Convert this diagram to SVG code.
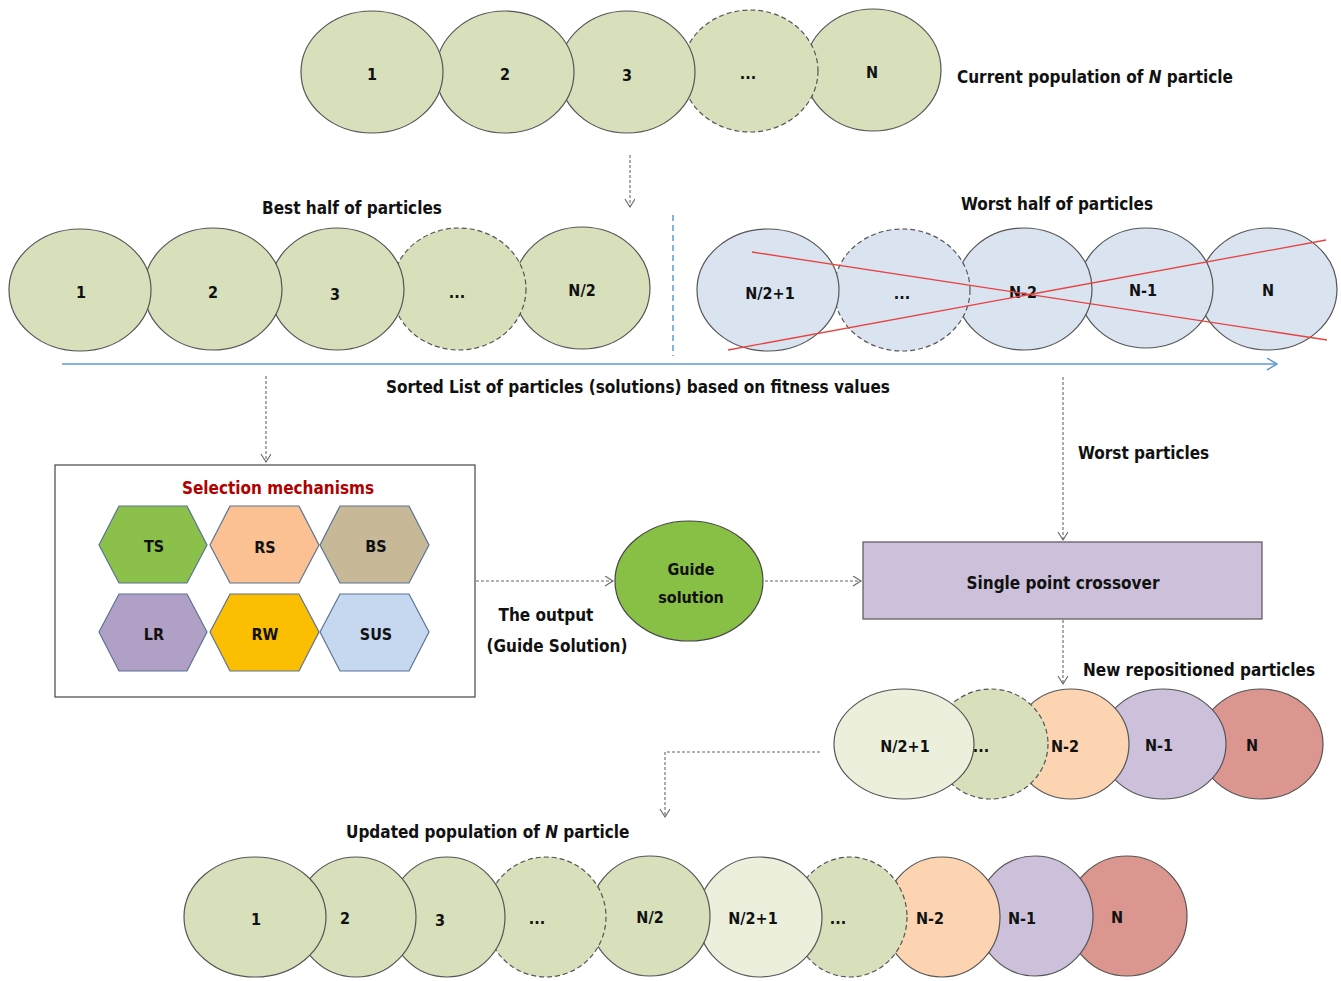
<svg xmlns="http://www.w3.org/2000/svg" width="1341" height="981" viewBox="0 0 1341 981">
<style>
text{font-family:"DejaVu Sans","Liberation Sans",sans-serif;font-stretch:condensed;font-weight:bold;fill:#111;}
.c{text-anchor:middle;}
.lbl{font-size:17px;}
.in{font-size:16px;}
.el{stroke:#555;stroke-width:1.2;}
.dash{stroke-dasharray:5,3;}
.g1{fill:#d7e0bb;}
.wb{fill:#dae3f0;}
.lt{fill:#ebefdc;}
.or{fill:#fdd4b2;}
.pu{fill:#ccc0da;}
.rd{fill:#da968f;}
.hex{stroke:#5a7396;stroke-width:1.2;}
.conn{fill:none;stroke:#666;stroke-width:1.1;stroke-dasharray:3,2;}
</style>
<defs>
<marker id="ah" markerWidth="12" markerHeight="12" refX="9" refY="5" orient="auto" markerUnits="userSpaceOnUse">
<path d="M1,0 L9,5 L1,10" fill="none" stroke="#666" stroke-width="1.1"/>
</marker>
<marker id="bh" markerWidth="14" markerHeight="14" refX="11" refY="6" orient="auto" markerUnits="userSpaceOnUse">
<path d="M1,0 L11,6 L1,12" fill="none" stroke="#5b9bd5" stroke-width="1.5"/>
</marker>
</defs>
<rect width="1341" height="981" fill="#fff"/>

<g id="current-population">
<ellipse class="el g1" cx="873" cy="70" rx="68" ry="61"/>
<ellipse class="el g1 dash" cx="750" cy="71" rx="68" ry="61"/>
<ellipse class="el g1" cx="627" cy="72" rx="68" ry="61"/>
<ellipse class="el g1" cx="505" cy="72" rx="69" ry="61"/>
<ellipse class="el g1" cx="372" cy="72" rx="71" ry="61"/>
<text class="c in" x="372" y="80">1</text>
<text class="c in" x="505" y="80">2</text>
<text class="c in" x="627" y="81">3</text>
<text class="c in" x="748" y="79">...</text>
<text class="c in" x="872" y="78">N</text>
<text class="lbl" x="957" y="83">Current population of <tspan font-style="italic">N</tspan> particle</text>
</g>

<g id="best-half">
<text class="c lbl" x="352" y="214">Best half of particles</text>
<ellipse class="el g1" cx="582" cy="288" rx="68" ry="61"/>
<ellipse class="el g1 dash" cx="459" cy="289" rx="67" ry="61"/>
<ellipse class="el g1" cx="337" cy="289" rx="67" ry="61"/>
<ellipse class="el g1" cx="213" cy="289" rx="69" ry="61"/>
<ellipse class="el g1" cx="80" cy="290" rx="71" ry="61"/>
<text class="c in" x="81" y="298">1</text>
<text class="c in" x="213" y="298">2</text>
<text class="c in" x="335" y="300">3</text>
<text class="c in" x="457" y="298">...</text>
<text class="c in" x="582" y="296">N/2</text>
</g>

<line x1="673" y1="215" x2="673" y2="356" stroke="#5b9bd5" stroke-width="1.5" stroke-dasharray="6,4"/>

<g id="worst-half">
<text class="c lbl" x="1057" y="210">Worst half of particles</text>
<ellipse class="el wb" cx="1268" cy="289" rx="69" ry="61"/>
<ellipse class="el wb" cx="1146" cy="288" rx="67" ry="60"/>
<ellipse class="el wb" cx="1024" cy="289" rx="68" ry="61"/>
<ellipse class="el wb dash" cx="902" cy="290" rx="68" ry="61"/>
<ellipse class="el wb" cx="768" cy="290" rx="71" ry="61"/>
<text class="c in" x="770" y="299">N/2+1</text>
<text class="c in" x="902" y="299">...</text>
<text class="c in" x="1023" y="298">N-2</text>
<text class="c in" x="1143" y="296">N-1</text>
<text class="c in" x="1268" y="296">N</text>
<line x1="752" y1="252" x2="1327" y2="340" stroke="#e8423f" stroke-width="1.3"/>
<line x1="728" y1="350" x2="1326" y2="240" stroke="#e8423f" stroke-width="1.3"/>
</g>

<g id="sorted-axis">
<line x1="62" y1="364" x2="1277" y2="364" stroke="#5b9bd5" stroke-width="1.5" marker-end="url(#bh)"/>
<text class="c lbl" x="638" y="393">Sorted List of particles (solutions) based on fitness values</text>
</g>

<g id="selection-mechanisms">
<rect x="55" y="465" width="420" height="232" fill="#fff" stroke="#444" stroke-width="1.2"/>
<text class="c lbl" x="278" y="494" style="fill:#b00000">Selection mechanisms</text>
<g id="hex-ts"><polygon class="hex" fill="#8bc14a" points="99,545 119,506 187,506 207,545 187,583 119,583"/><text class="c in" x="154" y="552">TS</text></g>
<g id="hex-rs"><polygon class="hex" fill="#fbc192" points="210,545 230,506 299,506 319,545 299,583 230,583"/><text class="c in" x="265" y="553">RS</text></g>
<g id="hex-bs"><polygon class="hex" fill="#c7b998" points="320,545 340,506 409,506 429,545 409,583 340,583"/><text class="c in" x="376" y="552">BS</text></g>
<g id="hex-lr"><polygon class="hex" fill="#b1a0c5" points="99,632 119,594 187,594 207,632 187,671 119,671"/><text class="c in" x="154" y="640">LR</text></g>
<g id="hex-rw"><polygon class="hex" fill="#fcbe00" points="210,632 230,594 299,594 319,632 299,671 230,671"/><text class="c in" x="265" y="640">RW</text></g>
<g id="hex-sus"><polygon class="hex" fill="#c5d8f0" points="320,632 340,594 409,594 429,632 409,671 340,671"/><text class="c in" x="376" y="640">SUS</text></g>
</g>

<g id="guide-solution">
<ellipse cx="689" cy="581" rx="74" ry="60" fill="#88bf45" stroke="#444" stroke-width="1.2"/>
<text class="c in" x="691" y="575">Guide</text>
<text class="c in" x="691" y="603">solution</text>
</g>

<g id="output-label">
<text class="c lbl" x="546" y="621">The output</text>
<text class="c lbl" x="557" y="652">(Guide Solution)</text>
</g>

<g id="crossover">
<rect x="863" y="542" width="399" height="77" fill="#ccc0da" stroke="#555" stroke-width="1.2"/>
<text class="c lbl" x="1063" y="589">Single point crossover</text>
</g>

<g id="worst-particles-label">
<text class="lbl" x="1078" y="459">Worst particles</text>
</g>

<g id="new-repositioned">
<text class="lbl" x="1083" y="676">New repositioned particles</text>
<ellipse class="el rd" cx="1261" cy="744" rx="62" ry="55"/>
<ellipse class="el pu" cx="1163" cy="744" rx="63" ry="55"/>
<ellipse class="el or" cx="1071" cy="744" rx="58" ry="55"/>
<ellipse class="el g1 dash" cx="991" cy="744" rx="57" ry="55"/>
<ellipse class="el lt" cx="904" cy="744" rx="70" ry="55"/>
<text class="c in" x="905" y="752">N/2+1</text>
<text class="c in" x="981" y="752">...</text>
<text class="c in" x="1065" y="752">N-2</text>
<text class="c in" x="1159" y="751">N-1</text>
<text class="c in" x="1252" y="751">N</text>
</g>

<g id="updated-population">
<text class="lbl" x="346" y="838">Updated population of <tspan font-style="italic">N</tspan> particle</text>
<ellipse class="el rd" cx="1127" cy="916" rx="60" ry="60"/>
<ellipse class="el pu" cx="1035" cy="916" rx="58" ry="60"/>
<ellipse class="el or" cx="942" cy="917" rx="58" ry="60"/>
<ellipse class="el g1 dash" cx="850" cy="917" rx="57" ry="60"/>
<ellipse class="el lt" cx="760" cy="917" rx="62" ry="60"/>
<ellipse class="el g1" cx="650" cy="916" rx="60" ry="60"/>
<ellipse class="el g1 dash" cx="546" cy="917" rx="60" ry="60"/>
<ellipse class="el g1" cx="447" cy="917" rx="58" ry="60"/>
<ellipse class="el g1" cx="356" cy="917" rx="60" ry="60"/>
<ellipse class="el g1" cx="255" cy="917" rx="71" ry="60"/>
<text class="c in" x="256" y="925">1</text>
<text class="c in" x="345" y="924">2</text>
<text class="c in" x="440" y="926">3</text>
<text class="c in" x="537" y="924">...</text>
<text class="c in" x="650" y="923">N/2</text>
<text class="c in" x="753" y="924">N/2+1</text>
<text class="c in" x="838" y="924">...</text>
<text class="c in" x="930" y="924">N-2</text>
<text class="c in" x="1022" y="924">N-1</text>
<text class="c in" x="1117" y="923">N</text>
</g>

<g id="connectors">
<line class="conn" x1="630" y1="155" x2="630" y2="207" marker-end="url(#ah)"/>
<line class="conn" x1="266" y1="376" x2="266" y2="462" marker-end="url(#ah)"/>
<line class="conn" x1="1063" y1="377" x2="1063" y2="540" marker-end="url(#ah)"/>
<line class="conn" x1="476" y1="581" x2="613" y2="581" marker-end="url(#ah)"/>
<line class="conn" x1="765" y1="581" x2="861" y2="581" marker-end="url(#ah)"/>
<line class="conn" x1="1063" y1="620" x2="1063" y2="684" marker-end="url(#ah)"/>
<polyline class="conn" points="820,752 665,752 665,817" marker-end="url(#ah)"/>
</g>
</svg>
